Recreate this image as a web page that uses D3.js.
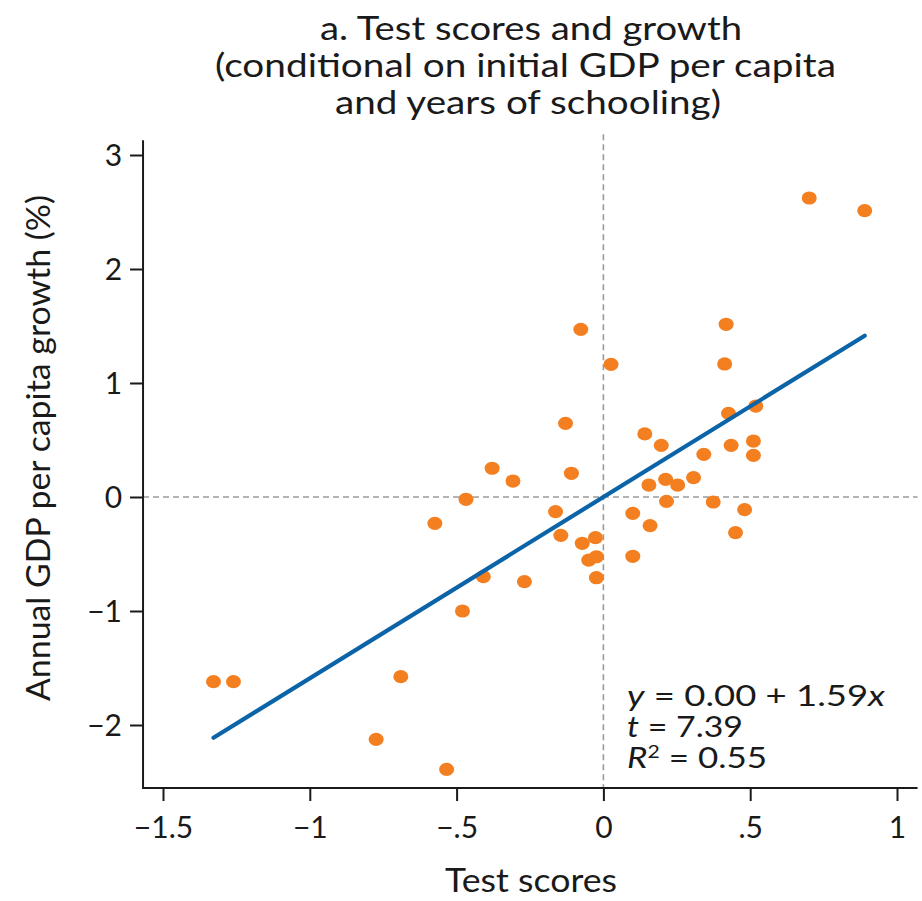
<!DOCTYPE html>
<html>
<head>
<meta charset="utf-8">
<script src="https://cdn.jsdelivr.net/npm/d3@7"></script>
<style>
  html, body { margin: 0; padding: 0; background: #fff; }
  svg { display: block; font-family: Lato, "Noto Sans", sans-serif; }
</style>
</head>
<body>
<svg id="chart" width="922" height="901"></svg>
<script>
// Standardised test score (x) vs. conditional annual GDP per capita growth (y)
const testScores = [
  -1.328, -1.260, -0.690, -0.774, -0.534, -0.480, -0.409, -0.269, -0.574, -0.468,
  -0.379, -0.308, -0.163, -0.145, -0.109, -0.129, -0.077, -0.072, -0.027, -0.050,
  -0.024, -0.024, 0.026, 0.100, 0.100, 0.141, 0.155, 0.159, 0.197, 0.212,
  0.215, 0.253, 0.307, 0.342, 0.374, 0.413, 0.418, 0.426, 0.435, 0.450,
  0.481, 0.511, 0.511, 0.519, 0.701, 0.890
];
const growth = [
  -1.620, -1.620, -1.576, -2.126, -2.389, -1.000, -0.699, -0.743, -0.231, -0.020,
  0.252, 0.140, -0.129, -0.336, 0.208, 0.646, 1.471, -0.406, -0.357, -0.553,
  -0.524, -0.708, 1.164, -0.143, -0.520, 0.553, 0.105, -0.251, 0.453, 0.155,
  -0.038, 0.105, 0.170, 0.374, -0.044, 1.167, 1.515, 0.734, 0.453, -0.313,
  -0.111, 0.491, 0.365, 0.798, 2.623, 2.512
];

// Fitted line y = a + b x over the observed range
const fitIntercept = 0.00;
const fitSlope = 1.59;
const fitRange = [-1.328, 0.890];
const fitT = 7.39;
const fitR2 = 0.55;

const xTickValues = [-1.5, -1, -0.5, 0, 0.5, 1];
const xTickLabels = ["\u22121.5", "\u22121", "\u2212.5", "0", ".5", "1"];
const yTickValues = [-2, -1, 0, 1, 2, 3];
const yTickLabels = ["\u22122", "\u22121", "0", "1", "2", "3"];

const xFrame = [-1.568, 1.07];
const yFrame = [-2.553, 3.13];

const titleLines = [
  "a. Test scores and growth",
  "(conditional on initial GDP per capita",
  "and years of schooling)"
];
const xTitle = "Test scores";
const yTitle = "Annual GDP per capita growth (%)";

const svg = d3.select("#chart");

const x = d3.scaleLinear().domain([-1.5, 1]).range([163, 897]);
const y = d3.scaleLinear().domain([-2, 3]).range([725, 155]);

const ink = "#1a1a1a";
const orange = "#f47f20";
const blue = "#0b63a8";

// Title
const titleSpans = [[320, 742], [215, 836], [335, 721]];
svg.append("g").selectAll("text").data(titleLines).join("text")
  .attr("x", (d, i) => (titleSpans[i][0] + titleSpans[i][1]) / 2)
  .attr("y", (d, i) => 40 + i * 37)
  .attr("text-anchor", "middle")
  .attr("font-size", 32)
  .attr("fill", ink)
  .attr("textLength", (d, i) => titleSpans[i][1] - titleSpans[i][0])
  .attr("lengthAdjust", "spacingAndGlyphs")
  .text(d => d);

// Reference lines at zero
const refG = svg.append("g")
  .attr("stroke", "#9a9a9a").attr("stroke-width", 1.6).attr("stroke-dasharray", "6,4");
refG.append("line")
  .attr("x1", x(xFrame[0])).attr("x2", x(xFrame[1]))
  .attr("y1", y(0)).attr("y2", y(0));
refG.append("line")
  .attr("x1", x(0)).attr("x2", x(0))
  .attr("y1", y(yFrame[1]) - 6).attr("y2", y(yFrame[0]));

// Axes
const xAxis = d3.axisBottom(x)
  .tickValues(xTickValues)
  .tickFormat((d, i) => xTickLabels[i])
  .tickSize(13).tickPadding(8).tickSizeOuter(0);
const gx = svg.append("g").attr("transform", `translate(0,${y(yFrame[0])})`).call(xAxis);
gx.select(".domain").remove();
gx.append("line")
  .attr("x1", x(xFrame[0])).attr("x2", x(xFrame[1]))
  .attr("stroke", ink).attr("stroke-width", 2);

const yAxis = d3.axisLeft(y)
  .tickValues(yTickValues)
  .tickFormat((d, i) => yTickLabels[i])
  .tickSize(13).tickPadding(8).tickSizeOuter(0);
const gy = svg.append("g").attr("transform", `translate(${x(xFrame[0])},0)`).call(yAxis);
gy.select(".domain").remove();
gy.append("line")
  .attr("y1", y(yFrame[0]) + 1).attr("y2", y(yFrame[1]))
  .attr("stroke", ink).attr("stroke-width", 2);

[gx, gy].forEach(g => {
  g.selectAll(".tick line").attr("stroke", ink).attr("stroke-width", 2);
  g.selectAll(".tick text").attr("fill", ink).attr("font-size", 30)
    .attr("font-family", "Lato, 'Noto Sans', sans-serif");
});
gx.selectAll(".tick text").attr("dy", "0.95em");
gy.selectAll(".tick text").attr("dy", "0.36em");

// Axis titles
svg.append("text")
  .attr("x", 531).attr("y", 892)
  .attr("text-anchor", "middle")
  .attr("font-size", 32).attr("fill", ink)
  .attr("textLength", 172).attr("lengthAdjust", "spacingAndGlyphs")
  .text(xTitle);

svg.append("text")
  .attr("transform", `translate(50,${448}) rotate(-90)`)
  .attr("text-anchor", "middle")
  .attr("font-size", 32).attr("fill", ink)
  .attr("textLength", 506).attr("lengthAdjust", "spacingAndGlyphs")
  .text(yTitle);

// Points
const pts = testScores.map((v, i) => ({ x: v, y: growth[i] }));
svg.append("g").selectAll("ellipse").data(pts).join("ellipse")
  .attr("cx", d => x(d.x))
  .attr("cy", d => y(d.y))
  .attr("rx", 7.5).attr("ry", 6.6)
  .attr("fill", orange);

// Fitted line
const line = d3.line().x(d => x(d)).y(d => y(fitIntercept + fitSlope * d));
svg.append("path")
  .datum(fitRange)
  .attr("d", line)
  .attr("fill", "none")
  .attr("stroke", blue)
  .attr("stroke-width", 4.2)
  .attr("stroke-linecap", "round");

// Regression summary
const note = svg.append("g")
  .attr("font-size", 28).attr("fill", ink)
  .attr("font-family", "Lato, 'Noto Sans', sans-serif");
const l1 = note.append("text").attr("x", 627).attr("y", 706)
  .attr("textLength", 258).attr("lengthAdjust", "spacingAndGlyphs");
l1.append("tspan").attr("font-style", "italic").text("y");
l1.append("tspan").text(` = ${fitIntercept.toFixed(2)} + ${fitSlope.toFixed(2)}`);
l1.append("tspan").attr("font-style", "italic").text("x");
const l2 = note.append("text").attr("x", 627).attr("y", 737)
  .attr("textLength", 116).attr("lengthAdjust", "spacingAndGlyphs");
l2.append("tspan").attr("font-style", "italic").text("t");
l2.append("tspan").text(` = ${fitT.toFixed(2)}`);
const l3 = note.append("text").attr("x", 627).attr("y", 768)
  .attr("textLength", 140).attr("lengthAdjust", "spacingAndGlyphs");
l3.append("tspan").attr("font-style", "italic").text("R");
l3.append("tspan").text("2").attr("font-size", 17).attr("dy", -10);
l3.append("tspan").text(` = ${fitR2.toFixed(2)}`).attr("dy", 10);
</script>
</body>
</html>
